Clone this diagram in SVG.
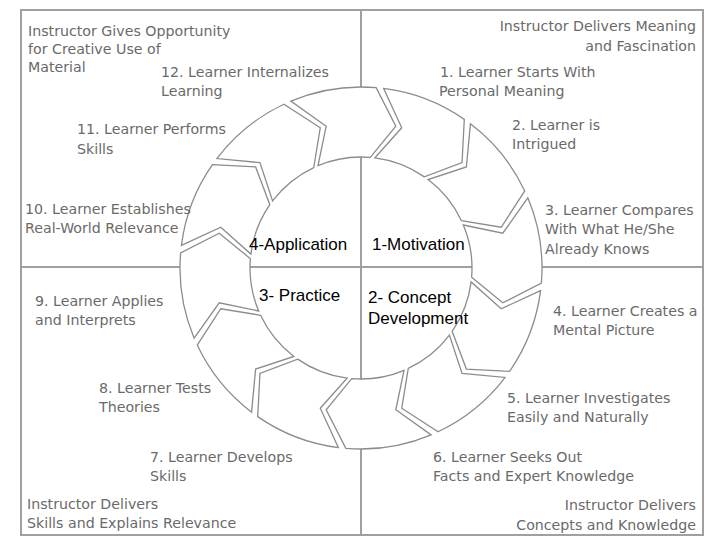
<svg xmlns="http://www.w3.org/2000/svg" xmlns:xlink="http://www.w3.org/1999/xlink" width="720" height="540" viewBox="0 0 720 540">
<style>
.lbl{font-family:"DejaVu Sans","Liberation Sans",Arial,sans-serif;font-size:14.2px;fill:#6a6a6a}
.ph{font-family:"Liberation Sans",Arial,sans-serif;font-size:17px;fill:#000}
.seg{fill:#fff;stroke:#8c8c8c;stroke-width:1.3;stroke-linejoin:miter}
.rule{stroke:#a0a0a0;stroke-width:2;fill:none}
</style>
<defs>
<path id="seg" class="seg" d="M -43.17 -175.77 A 181 181 0 0 1 43.17 -175.77 L 56.58 -134.60 L 26.47 -107.79 A 111 111 0 0 0 -26.47 -107.79 L -12.22 -145.49 Z"/>
</defs>
<rect x="0" y="0" width="720" height="540" fill="#fff"/>
<g id="connectors">
<rect class="rule" x="21" y="10" width="682" height="525"/>
<line class="rule" x1="361" y1="10" x2="361" y2="535"/>
<line class="rule" x1="21" y1="267" x2="703" y2="267"/>
</g>
<g id="ring">
<g id="seg1"><use xlink:href="#seg" transform="translate(361,268) rotate(21)"/></g>
<g id="seg2"><use xlink:href="#seg" transform="translate(361,268) rotate(51)"/></g>
<g id="seg3"><use xlink:href="#seg" transform="translate(361,268) rotate(81)"/></g>
<g id="seg4"><use xlink:href="#seg" transform="translate(361,268) rotate(111)"/></g>
<g id="seg5"><use xlink:href="#seg" transform="translate(361,268) rotate(141)"/></g>
<g id="seg6"><use xlink:href="#seg" transform="translate(361,268) rotate(171)"/></g>
<g id="seg7"><use xlink:href="#seg" transform="translate(361,268) rotate(201)"/></g>
<g id="seg8"><use xlink:href="#seg" transform="translate(361,268) rotate(231)"/></g>
<g id="seg9"><use xlink:href="#seg" transform="translate(361,268) rotate(261)"/></g>
<g id="seg10"><use xlink:href="#seg" transform="translate(361,268) rotate(291)"/></g>
<g id="seg11"><use xlink:href="#seg" transform="translate(361,268) rotate(321)"/></g>
<g id="seg12"><use xlink:href="#seg" transform="translate(361,268) rotate(351)"/></g>
</g>
<g id="phases">
<text class="ph" x="249" y="250">4-Application</text>
<text class="ph" x="372" y="250">1-Motivation</text>
<text class="ph" x="259" y="301">3- Practice</text>
<text class="ph" x="368" y="303">2- Concept</text>
<text class="ph" x="368" y="324">Development</text>
</g>
<g id="quadrants">
<text class="lbl" x="28" y="36">Instructor Gives Opportunity</text>
<text class="lbl" x="28" y="54">for Creative Use of</text>
<text class="lbl" x="28" y="72">Material</text>
<text class="lbl" x="696" y="31" text-anchor="end">Instructor Delivers Meaning</text>
<text class="lbl" x="696" y="51" text-anchor="end">and Fascination</text>
<text class="lbl" x="696" y="510" text-anchor="end">Instructor Delivers</text>
<text class="lbl" x="696" y="530" text-anchor="end">Concepts and Knowledge</text>
<text class="lbl" x="27" y="509">Instructor Delivers</text>
<text class="lbl" x="27" y="528">Skills and Explains Relevance</text>
</g>
<g id="steps">
<text class="lbl" x="440" y="77">1. Learner Starts With</text>
<text class="lbl" x="439" y="96">Personal Meaning</text>
<text class="lbl" x="512" y="130">2. Learner is</text>
<text class="lbl" x="512" y="149">Intrigued</text>
<text class="lbl" x="545" y="215">3. Learner  Compares</text>
<text class="lbl" x="545" y="234">With What He/She</text>
<text class="lbl" x="545" y="254">Already Knows</text>
<text class="lbl" x="553" y="316">4. Learner Creates a</text>
<text class="lbl" x="553" y="335">Mental Picture</text>
<text class="lbl" x="507" y="403">5. Learner Investigates</text>
<text class="lbl" x="507" y="422">Easily and Naturally</text>
<text class="lbl" x="433" y="462">6. Learner Seeks Out</text>
<text class="lbl" x="433" y="481">Facts and Expert Knowledge</text>
<text class="lbl" x="150" y="462">7. Learner Develops</text>
<text class="lbl" x="150" y="481">Skills</text>
<text class="lbl" x="99" y="393">8. Learner Tests</text>
<text class="lbl" x="99" y="412">Theories</text>
<text class="lbl" x="35" y="306">9. Learner Applies</text>
<text class="lbl" x="35" y="325">and Interprets</text>
<text class="lbl" x="25" y="214">10. Learner Establishes</text>
<text class="lbl" x="25" y="233">Real-World Relevance</text>
<text class="lbl" x="77" y="134">11. Learner Performs</text>
<text class="lbl" x="77" y="154">Skills</text>
<text class="lbl" x="161" y="77">12. Learner Internalizes</text>
<text class="lbl" x="161" y="96">Learning</text>
</g>
</svg>
